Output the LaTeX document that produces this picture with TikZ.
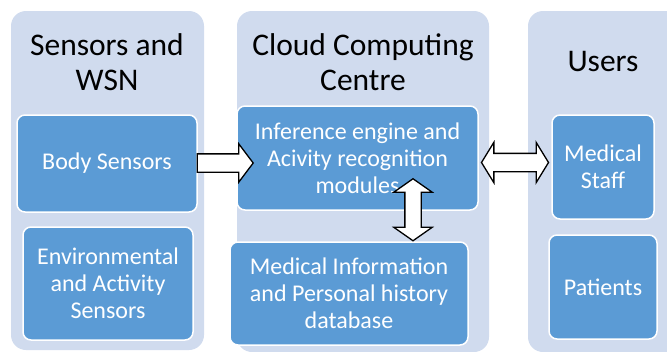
\documentclass[tikz,border=0pt]{standalone}
\usepackage{fontspec}
\setmainfont{Carlito}
\usetikzlibrary{shapes.arrows,positioning,calc}
\definecolor{panelblue}{HTML}{D0DBEE}
\definecolor{boxblue}{HTML}{5B9BD5}

\begin{document}
\begin{tikzpicture}[x=1pt,y=-1pt,
  panel/.style={fill=panelblue, rounded corners=15pt},
  title/.style={align=center, font=\fontsize{31.5}{35}\selectfont, text=black},
  unit/.style={fill=boxblue, draw=white, line width=1.5pt, rounded corners=8pt, align=center, text=white, font=\fontsize{24}{27}\selectfont, inner sep=0pt},
  fatarrow/.style={single arrow, draw=black, fill=white, line width=1.3pt, inner xsep=0pt, inner ysep=8.5pt, single arrow head extend=10pt, single arrow tip angle=106},
  fatdouble/.style={double arrow, draw=black, fill=white, line width=1.3pt, inner xsep=0pt, double arrow head extend=11pt}]

\useasboundingbox (0,0) rectangle (667,351);

% PANELS

\fill[panel] (11,11) rectangle (204,350);
\fill[panel] (237,11) rectangle (489,352);
\fill[panel] (528,11) rectangle (690,352);

\node[title] (sensorstitle) at (107,62) {Sensors and\\WSN};
\node[title] (cloudtitle) at (363,62) {Cloud Computing\\Centre};
\node[title] (userstitle) at (603,62) {Users};

% BOXES

\node[unit, minimum width=180pt, minimum height=97pt] (body) at (107,163.5) {Body Sensors};
\node[unit, minimum width=170pt, minimum height=113pt] (env) at (108,283.5) {Environmental\\and Activity\\Sensors};

\node[unit, minimum width=241pt, minimum height=104pt] (infer) at (357.5,158) {Inference engine and\\Acivity recognition\\modules};
\node[unit, minimum width=238pt, minimum height=103pt] (medinfo) at (349,293.5) {Medical Information\\and Personal history\\database};

\node[unit, minimum width=102pt, minimum height=104pt] (staff) at (603,167) {Medical\\Staff};
\node[unit, minimum width=108pt, minimum height=104pt] (patients) at (603,287) {Patients};

% ARROWS

\node[fatarrow, minimum height=56pt] (bodytoinfer) at ($(body.east)+(24,-0.5)$) {};
\node[fatdouble, inner ysep=8.5pt, double arrow tip angle=117, minimum height=67pt] (infertostaff) at ($(infer.east)!0.5!(staff.west)$) {};
\node[fatdouble, inner ysep=7.5pt, double arrow tip angle=110, minimum height=62pt, rotate=90] (infertomed) at ($(infer.south)+(55.5,-1)$) {};

\end{tikzpicture}
\end{document}
